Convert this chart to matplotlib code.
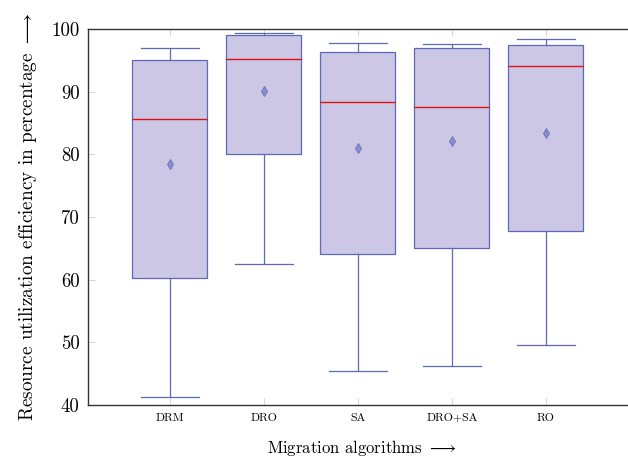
import matplotlib
matplotlib.use("Agg")
import matplotlib.pyplot as plt

plt.rcParams['font.family'] = ['cmr10', 'DejaVu Serif']
plt.rcParams['mathtext.fontset'] = 'cm'
plt.rcParams['axes.formatter.use_mathtext'] = True

categories = ["DRM", "DRO", "SA", "DRO+SA", "RO"]
whisker_low = [41.3, 62.5, 45.4, 46.3, 49.5]
q1 = [60.3, 80.1, 64.1, 65.1, 67.7]
median = [85.7, 95.2, 88.4, 87.6, 94.1]
q3 = [95.1, 99.0, 96.4, 97.0, 97.5]
whisker_high = [97.0, 99.3, 97.8, 97.6, 98.4]
mean = [78.5, 90.1, 81.0, 82.1, 83.4]
yticks = [40, 50, 60, 70, 80, 90, 100]

stats = []
for i, c in enumerate(categories):
    stats.append(dict(label=c, whislo=whisker_low[i], q1=q1[i], med=median[i],
                      q3=q3[i], whishi=whisker_high[i], mean=mean[i], fliers=[]))

fig = plt.figure(figsize=(6.28, 4.59), dpi=100)
ax = fig.add_axes([0.140, 0.1176, 0.874, 0.8192])

edge = '#5d68b6'
positions = list(range(1, len(categories) + 1))
ax.bxp(stats, positions=positions, widths=0.8, capwidths=0.62,
       patch_artist=True, showmeans=True, showfliers=False,
       boxprops=dict(facecolor='#cbc7e5', edgecolor=edge, linewidth=0.9),
       whiskerprops=dict(color=edge, linewidth=0.9),
       capprops=dict(color=edge, linewidth=0.9),
       medianprops=dict(color='#e01010', linewidth=1.0),
       meanprops=dict(marker='d', markerfacecolor='#8a8ec9', markeredgecolor='#6a72b9',
                      markersize=5, markeredgewidth=0.6))

ax.set_xlim(0.128, 5.967)
ax.set_ylim(40, 100)
ax.set_yticks(yticks)
ax.set_yticklabels([str(t) for t in yticks], fontsize=13.5)
ax.set_xticks(positions)
ax.set_xticklabels(categories, fontsize=8.5)

ax.tick_params(axis='both', direction='in', color='#d8d8d8', length=5, width=0.8,
               top=True, right=False, pad=6)
for s in ['left', 'bottom', 'top']:
    ax.spines[s].set_color('#333333')
    ax.spines[s].set_linewidth(1.0)
ax.spines['right'].set_visible(False)

# short tick marks near the right edge of the figure
for t in yticks[1:-1]:
    ax.plot([5.87, 5.967], [t, t], color='#d8d8d8', lw=0.8, clip_on=False, zorder=1)

ax.set_xlabel(r'Migration algorithms $\longrightarrow$', fontsize=12, labelpad=11)
ax.set_ylabel(r'Resource utilization efficiency in percentage $\longrightarrow$', fontsize=13.8, labelpad=9)

fig.savefig('out.png', dpi=100)
